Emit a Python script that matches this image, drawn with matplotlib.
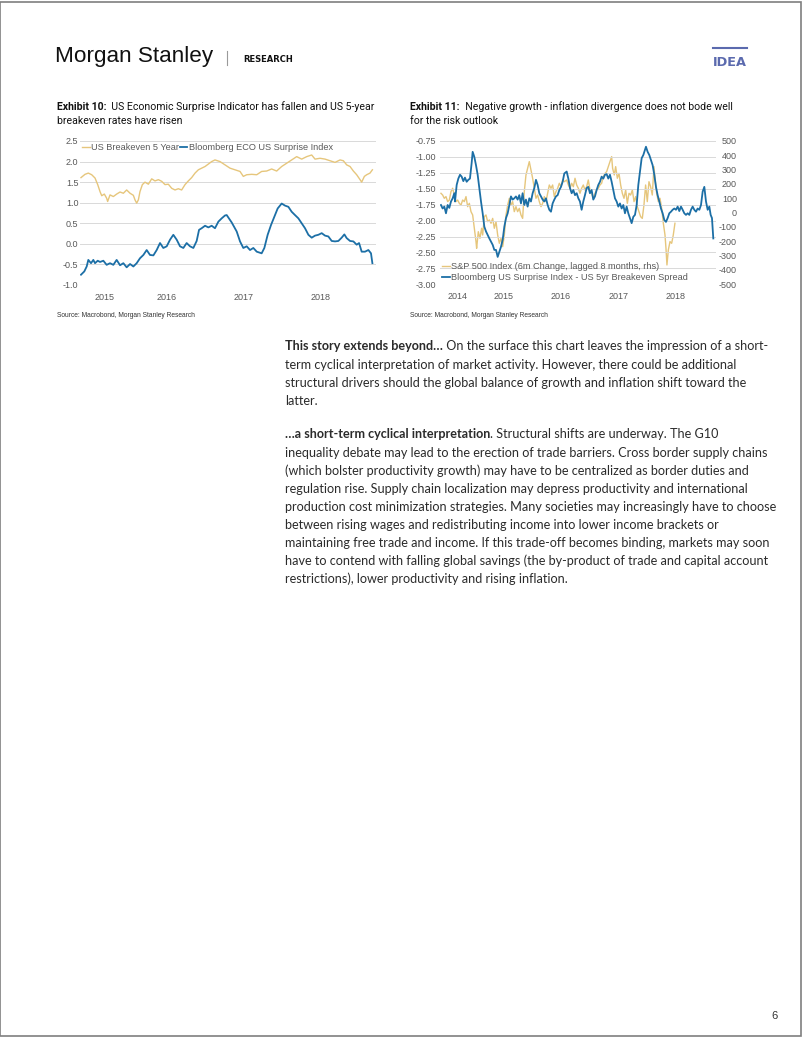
import matplotlib
matplotlib.use('Agg')
import matplotlib.pyplot as plt
import numpy as np
from matplotlib.ticker import FormatStrFormatter

plt.rcParams['font.family'] = ['Liberation Sans', 'DejaVu Sans']
plt.rcParams['axes.unicode_minus'] = False

W, H = 802, 1037
GOLD = '#E6C67C'
BLUE = '#1C6FA6'
GRID = '#D9D9D9'
TICK = '#595959'

# ---- Exhibit 10 data (decimal years) ----
be_t = [2015.383, 2015.435, 2015.478, 2015.522, 2015.565, 2015.600, 2015.630, 2015.652,
        2015.686, 2015.716, 2015.729, 2015.760, 2015.803, 2015.846, 2015.890, 2015.933,
        2015.976, 2016.020, 2016.063, 2016.084, 2016.106, 2016.128, 2016.149, 2016.180,
        2016.214, 2016.258, 2016.301, 2016.344, 2016.388, 2016.431, 2016.474, 2016.517,
        2016.561, 2016.604, 2016.647, 2016.690, 2016.734, 2016.777, 2016.820, 2016.864,
        2016.907, 2016.950, 2016.994, 2017.037, 2017.080, 2017.123, 2017.188, 2017.253,
        2017.318, 2017.383, 2017.448, 2017.491, 2017.535, 2017.600, 2017.665, 2017.729,
        2017.794, 2017.859, 2017.924, 2017.989, 2018.054, 2018.119, 2018.184, 2018.249,
        2018.314, 2018.379, 2018.422, 2018.487, 2018.552, 2018.617, 2018.682, 2018.747,
        2018.790, 2018.833, 2018.877, 2018.920, 2018.963, 2019.007, 2019.028, 2019.063,
        2019.093, 2019.136, 2019.167]
be_v = [1.61, 1.69, 1.72, 1.68, 1.60, 1.44, 1.27, 1.17,
        1.21, 1.11, 1.03, 1.19, 1.15, 1.21, 1.26, 1.23,
        1.31, 1.23, 1.18, 1.07, 0.99, 1.07, 1.27, 1.44,
        1.50, 1.45, 1.58, 1.53, 1.56, 1.52, 1.44, 1.45,
        1.35, 1.31, 1.34, 1.31, 1.44, 1.53, 1.61, 1.72,
        1.80, 1.84, 1.88, 1.94, 2.00, 2.04, 2.00, 1.92,
        1.84, 1.80, 1.76, 1.64, 1.68, 1.69, 1.68, 1.76,
        1.77, 1.82, 1.77, 1.88, 1.96, 2.04, 2.12, 2.06,
        2.12, 2.16, 2.06, 2.08, 2.06, 2.02, 1.98, 2.04,
        2.02, 1.92, 1.88, 1.77, 1.68, 1.56, 1.50, 1.64,
        1.68, 1.72, 1.80]

esi_t = [2015.383, 2015.426, 2015.457, 2015.478, 2015.513, 2015.543, 2015.565, 2015.600,
         2015.630, 2015.673, 2015.716, 2015.760, 2015.803, 2015.846, 2015.890, 2015.933,
         2015.976, 2016.020, 2016.063, 2016.106, 2016.149, 2016.193, 2016.236, 2016.279,
         2016.323, 2016.366, 2016.409, 2016.452, 2016.496, 2016.539, 2016.582, 2016.626,
         2016.669, 2016.712, 2016.755, 2016.799, 2016.842, 2016.885, 2016.916, 2016.950,
         2016.994, 2017.037, 2017.080, 2017.123, 2017.167, 2017.210, 2017.253, 2017.275,
         2017.340, 2017.405, 2017.448, 2017.491, 2017.535, 2017.578, 2017.621, 2017.665,
         2017.729, 2017.764, 2017.807, 2017.851, 2017.894, 2017.937, 2017.989, 2018.032,
         2018.076, 2018.119, 2018.162, 2018.206, 2018.249, 2018.292, 2018.336, 2018.379,
         2018.422, 2018.465, 2018.509, 2018.552, 2018.595, 2018.639, 2018.682, 2018.725,
         2018.768, 2018.803, 2018.833, 2018.877, 2018.920, 2018.963, 2018.994, 2019.028,
         2019.071, 2019.115, 2019.149, 2019.167]
esi_v = [-0.75, -0.67, -0.55, -0.39, -0.47, -0.39, -0.47, -0.41,
         -0.44, -0.41, -0.51, -0.47, -0.51, -0.39, -0.52, -0.47,
         -0.57, -0.49, -0.55, -0.47, -0.35, -0.27, -0.15, -0.27,
         -0.28, -0.15, 0.02, -0.10, -0.06, 0.10, 0.22, 0.10,
         -0.06, -0.10, 0.02, -0.06, -0.10, 0.07, 0.34, 0.38,
         0.44, 0.40, 0.44, 0.38, 0.54, 0.62, 0.69, 0.70,
         0.52, 0.30, 0.06, -0.10, -0.06, -0.15, -0.10, -0.19,
         -0.23, -0.10, 0.22, 0.46, 0.66, 0.86, 0.98, 0.93,
         0.90, 0.78, 0.70, 0.62, 0.50, 0.38, 0.22, 0.15,
         0.20, 0.22, 0.26, 0.20, 0.18, 0.07, 0.06, 0.07,
         0.15, 0.23, 0.14, 0.07, 0.06, -0.02, 0.02, -0.19,
         -0.19, -0.15, -0.23, -0.47]

# ---- Exhibit 11 data ----
spr_t = [2014.413, 2014.442, 2014.471, 2014.500, 2014.529, 2014.558, 2014.587, 2014.616,
         2014.645, 2014.657, 2014.686, 2014.715, 2014.744, 2014.773, 2014.802, 2014.830,
         2014.860, 2014.888, 2014.917, 2014.946, 2014.964, 2014.993, 2015.022, 2015.051,
         2015.080, 2015.109, 2015.138, 2015.167, 2015.196, 2015.225, 2015.254, 2015.283,
         2015.312, 2015.341, 2015.370, 2015.399, 2015.428, 2015.457, 2015.486, 2015.515,
         2015.544, 2015.573, 2015.602, 2015.630, 2015.659, 2015.688, 2015.717, 2015.746,
         2015.775, 2015.804, 2015.833, 2015.862, 2015.891, 2015.920, 2015.949, 2015.978,
         2016.007, 2016.036, 2016.065, 2016.094, 2016.123, 2016.152, 2016.181, 2016.210,
         2016.239, 2016.268, 2016.297, 2016.326, 2016.355, 2016.384, 2016.413, 2016.442,
         2016.471, 2016.500, 2016.529, 2016.558, 2016.599, 2016.628, 2016.657, 2016.686,
         2016.715, 2016.744, 2016.773, 2016.802, 2016.830, 2016.859, 2016.888, 2016.917,
         2016.946, 2016.975, 2017.004, 2017.033, 2017.062, 2017.091, 2017.120, 2017.149,
         2017.178, 2017.207, 2017.236, 2017.265, 2017.294, 2017.323, 2017.352, 2017.381,
         2017.410, 2017.439, 2017.468, 2017.497, 2017.526, 2017.555, 2017.584, 2017.613,
         2017.642, 2017.671, 2017.700, 2017.729, 2017.758, 2017.787, 2017.816, 2017.845,
         2017.874, 2017.903, 2017.932, 2017.961, 2017.978, 2018.007, 2018.036, 2018.065,
         2018.094, 2018.123, 2018.152, 2018.181, 2018.210, 2018.239, 2018.268, 2018.297,
         2018.326, 2018.355, 2018.384, 2018.413, 2018.442, 2018.471, 2018.500, 2018.529,
         2018.558, 2018.587, 2018.616, 2018.645, 2018.674, 2018.703, 2018.732, 2018.761,
         2018.790, 2018.819, 2018.848, 2018.877, 2018.906, 2018.935, 2018.964, 2018.993,
         2019.022, 2019.051, 2019.080, 2019.103, 2019.126, 2019.149]
spr_v = [-1.755, -1.81, -1.78, -1.885, -1.755, -1.80, -1.70, -1.65,
         -1.57, -1.70, -1.44, -1.34, -1.28, -1.31, -1.38, -1.325,
         -1.39, -1.36, -1.34, -1.10, -0.92, -1.00, -1.13, -1.28,
         -1.49, -1.70, -1.885, -2.095, -2.17, -2.225, -2.28, -2.33,
         -2.38, -2.46, -2.46, -2.57, -2.49, -2.41, -2.30, -2.095,
         -1.96, -1.885, -1.755, -1.62, -1.67, -1.65, -1.62, -1.67,
         -1.60, -1.73, -1.57, -1.755, -1.67, -1.78, -1.65, -1.70,
         -1.57, -1.49, -1.36, -1.44, -1.57, -1.62, -1.67, -1.70,
         -1.65, -1.755, -1.83, -1.86, -1.73, -1.67, -1.62, -1.60,
         -1.52, -1.47, -1.39, -1.26, -1.23, -1.34, -1.49, -1.57,
         -1.52, -1.60, -1.57, -1.65, -1.70, -1.83, -1.70, -1.60,
         -1.49, -1.47, -1.57, -1.52, -1.67, -1.62, -1.52, -1.44,
         -1.39, -1.31, -1.34, -1.28, -1.27, -1.34, -1.28, -1.39,
         -1.52, -1.65, -1.70, -1.78, -1.73, -1.81, -1.755, -1.885,
         -1.78, -1.885, -1.96, -2.04, -1.94, -1.91, -1.755, -1.44,
         -1.23, -1.02, -0.97, -0.89, -0.84, -0.92, -0.97, -1.05,
         -1.13, -1.28, -1.47, -1.60, -1.70, -1.81, -1.885, -1.99,
         -2.02, -1.96, -1.885, -1.86, -1.83, -1.81, -1.83, -1.78,
         -1.85, -1.78, -1.83, -1.885, -1.91, -1.885, -1.91, -1.83,
         -1.78, -1.83, -1.86, -1.81, -1.83, -1.755, -1.545, -1.47,
         -1.70, -1.83, -1.78, -1.91, -1.96, -2.28]

spx_t = [2014.413, 2014.442, 2014.471, 2014.500, 2014.529, 2014.558, 2014.587, 2014.616,
         2014.645, 2014.674, 2014.703, 2014.732, 2014.761, 2014.790, 2014.819, 2014.848,
         2014.877, 2014.906, 2014.935, 2014.964, 2014.993, 2015.022, 2015.033, 2015.062,
         2015.091, 2015.120, 2015.138, 2015.167, 2015.196, 2015.225, 2015.254, 2015.283,
         2015.312, 2015.341, 2015.370, 2015.399, 2015.428, 2015.457, 2015.486, 2015.515,
         2015.544, 2015.573, 2015.602, 2015.630, 2015.659, 2015.688, 2015.717, 2015.746,
         2015.775, 2015.804, 2015.833, 2015.862, 2015.891, 2015.920, 2015.949, 2015.978,
         2016.007, 2016.036, 2016.065, 2016.094, 2016.123, 2016.152, 2016.181, 2016.210,
         2016.239, 2016.268, 2016.297, 2016.326, 2016.355, 2016.384, 2016.413, 2016.442,
         2016.471, 2016.500, 2016.529, 2016.558, 2016.599, 2016.628, 2016.657, 2016.686,
         2016.715, 2016.744, 2016.773, 2016.802, 2016.830, 2016.859, 2016.888, 2016.917,
         2016.946, 2016.975, 2017.004, 2017.033, 2017.062, 2017.091, 2017.120, 2017.149,
         2017.178, 2017.207, 2017.236, 2017.265, 2017.294, 2017.323, 2017.352, 2017.381,
         2017.398, 2017.427, 2017.451, 2017.480, 2017.509, 2017.538, 2017.567, 2017.596,
         2017.625, 2017.654, 2017.683, 2017.712, 2017.741, 2017.770, 2017.799, 2017.827,
         2017.856, 2017.885, 2017.914, 2017.943, 2017.972, 2018.001, 2018.030, 2018.059,
         2018.088, 2018.117, 2018.135, 2018.164, 2018.193, 2018.222, 2018.251, 2018.280,
         2018.309, 2018.326, 2018.343, 2018.367, 2018.396, 2018.425, 2018.453, 2018.482]
spx_v = [135, 123, 100, 112, 77, 88, 147, 170,
         123, 77, 88, 65, 53, 88, 77, 112,
         42, 65, 7, -16, -109, -202, -249, -133,
         -179, -109, -156, -28, -16, -63, -51, -74,
         -40, -109, -63, -156, -214, -179, -237, -156,
         -16, 53, 100, 53, 77, 7, 42, 7,
         30, -16, -40, 147, 263, 309, 356, 298,
         240, 170, 100, 123, 77, 42, 65, 112,
         77, 135, 193, 170, 193, 112, 147, 170,
         205, 181, 228, 216, 228, 193, 170, 205,
         181, 240, 193, 170, 135, 170, 193, 158,
         181, 228, 158, 135, 100, 135, 158, 170,
         193, 205, 251, 274, 286, 321, 356, 391,
         309, 263, 321, 240, 274, 193, 135, 100,
         158, 65, 135, 123, 158, 77, 112, 42,
         7, -28, -40, 53, 193, 77, 216, 181,
         123, 321, 240, 135, 77, 100, 30, -74,
         -156, -249, -365, -260, -202, -214, -156, -74]

ex10_years = ['2015', '2016', '2017', '2018']
ex11_years = ['2014', '2015', '2016', '2017', '2018']


def px(x, y):
    return x / W, 1 - y / H


def box(l, t, r, b):
    return [l / W, 1 - b / H, (r - l) / W, (b - t) / H]


def clean(ax):
    for s in ax.spines.values():
        s.set_visible(False)
    ax.tick_params(length=0, labelsize=6.5, labelcolor=TICK)


def year_ticks(ax, years):
    lo, hi = ax.get_xlim()
    pos = []
    for y in years:
        a = max(int(y), lo)
        b = min(int(y) + 1, hi)
        pos.append((a + b) / 2)
    ax.set_xticks(pos)
    ax.set_xticklabels(years)


fig = plt.figure(figsize=(W / 100, H / 100), dpi=100)
fig.patch.set_facecolor('white')
renderer = fig.canvas.get_renderer()


def rich(x, y, parts, size, family, color='#222222'):
    # draw segments one after another on the same baseline
    for txt, weight in parts:
        t = fig.text(*px(x, y), txt, fontsize=size, fontweight=weight, family=family,
                     color=color, va='baseline', ha='left')
        x += t.get_window_extent(renderer).width


# page frame
fig.add_artist(plt.Rectangle((0.0005, 0.0005), 0.998, 0.998, transform=fig.transFigure,
                             fill=False, edgecolor='#7f7f7f', lw=1.2))

# header
fig.text(*px(55, 62), 'Morgan Stanley', fontsize=16.2, family='Liberation Sans',
         color='#111111', va='baseline')
fig.add_artist(plt.Line2D([227 / W, 227 / W], [1 - 51 / H, 1 - 65 / H], color='#9a9a9a', lw=0.8))
fig.text(*px(243, 62), 'RESEARCH', fontsize=6, fontweight='bold', family='DejaVu Sans',
         color='#111111', va='baseline')
fig.add_artist(plt.Line2D([713 / W, 747 / W], [1 - 48 / H, 1 - 48 / H], color='#5B6AAE', lw=1.5))
fig.text(*px(713, 66), 'IDEA', fontsize=9.3, fontweight='bold', family='DejaVu Sans',
         color='#5B6AAE', va='baseline')

# titles
rich(57, 109.5, [('Exhibit 10:', 'bold'), ('  US Economic Surprise Indicator has fallen and US 5-year', 'normal')],
     7.6, 'Roboto', '#111111')
rich(57, 124, [('breakeven rates have risen', 'normal')], 7.6, 'Roboto', '#111111')
rich(410, 109.5, [('Exhibit 11:', 'bold'), ('  Negative growth - inflation divergence does not bode well', 'normal')],
     7.6, 'Roboto', '#111111')
rich(410, 124, [('for the risk outlook', 'normal')], 7.6, 'Roboto', '#111111')

# ---- Exhibit 10 ----
ax1 = fig.add_axes(box(80, 141, 376, 285))
ax1.plot(be_t, be_v, color=GOLD, lw=1.0, label='US Breakeven 5 Year')
ax1.plot(esi_t, esi_v, color=BLUE, lw=1.3, label='Bloomberg ECO US Surprise Index')
ax1.set_xlim(2015.37, 2019.214)
ax1.set_ylim(-1, 2.5)
ax1.set_yticks(np.arange(-1, 2.51, 0.5))
ax1.yaxis.set_major_formatter(FormatStrFormatter('%.1f'))
ax1.grid(axis='y', color=GRID, lw=0.7)
ax1.set_axisbelow(True)
clean(ax1)
ax1.tick_params(axis='y', pad=1.2)
ax1.tick_params(axis='x', pad=5.5)
year_ticks(ax1, ex10_years)
ax1.legend(loc='upper left', bbox_to_anchor=(0.0, 1.0), ncol=2, frameon=False, fontsize=6.6,
           handlelength=0.8, handletextpad=0.15, columnspacing=0.1, borderaxespad=0,
           borderpad=0.25, labelcolor=TICK)

# ---- Exhibit 11 ----
axl = fig.add_axes(box(440, 141, 716, 284.3))
axr = axl.twinx()
l_spx, = axr.plot(spx_t, spx_v, color=GOLD, lw=1.0, label='S&P 500 Index (6m Change, lagged 8 months, rhs)')
l_spr, = axl.plot(spr_t, spr_v, color=BLUE, lw=1.3, label='Bloomberg US Surprise Index - US 5yr Breakeven Spread')
axl.set_zorder(axr.get_zorder() + 1)
axl.patch.set_visible(False)
axl.set_xlim(2014.396, 2019.196)
axl.set_ylim(-3, -0.75)
axl.set_yticks(np.arange(-3, -0.74, 0.25))
axl.yaxis.set_major_formatter(FormatStrFormatter('%.2f'))
axr.set_ylim(-500, 500)
axr.set_yticks(np.arange(-500, 501, 100))
axr.yaxis.set_major_formatter(FormatStrFormatter('%d'))
axl.grid(axis='y', color=GRID, lw=0.7)
clean(axl)
clean(axr)
axl.tick_params(axis='y', pad=2.9)
axl.tick_params(axis='x', pad=5.5)
axr.tick_params(axis='y', pad=15)
for lab in axr.get_yticklabels():
    lab.set_horizontalalignment('right')
year_ticks(axl, ex11_years)
axl.legend(handles=[l_spx, l_spr], loc='lower left', bbox_to_anchor=(0.0, 0.0), frameon=False,
           fontsize=6.6, handlelength=0.8, handletextpad=0.2, borderaxespad=0, borderpad=0.25,
           labelspacing=0.25, labelcolor=TICK)

# sources
fig.text(*px(57, 317), 'Source: Macrobond, Morgan Stanley Research', fontsize=4.8, color='#333333', va='baseline')
fig.text(*px(410, 317), 'Source: Macrobond, Morgan Stanley Research', fontsize=4.8, color='#333333', va='baseline')

# body text
body1 = [
    [('This story extends beyond\u2026', 'bold'), (' On the surface this chart leaves the impression of a short-', 'normal')],
    [('term cyclical interpretation of market activity. However, there could be additional', 'normal')],
    [('structural drivers should the global balance of growth and inflation shift toward the', 'normal')],
    [('latter.', 'normal')],
]
body2 = [
    [('\u2026a short-term cyclical interpretation', 'bold'), ('. Structural shifts are underway. The G10', 'normal')],
    [('inequality debate may lead to the erection of trade barriers. Cross border supply chains', 'normal')],
    [('(which bolster productivity growth) may have to be centralized as border duties and', 'normal')],
    [('regulation rise. Supply chain localization may depress productivity and international', 'normal')],
    [('production cost minimization strategies. Many societies may increasingly have to choose', 'normal')],
    [('between rising wages and redistributing income into lower income brackets or', 'normal')],
    [('maintaining free trade and income. If this trade-off becomes binding, markets may soon', 'normal')],
    [('have to contend with falling global savings (the by-product of trade and capital account', 'normal')],
    [('restrictions), lower productivity and rising inflation.', 'normal')],
]
for i, parts in enumerate(body1):
    rich(285, 350.5 + 18.1 * i, parts, 9.1, 'Lato', '#2b2b2b')
for i, parts in enumerate(body2):
    rich(285, 438.5 + 18.1 * i, parts, 9.1, 'Lato', '#2b2b2b')

fig.text(*px(771, 1019), '6', fontsize=8, color='#333333', va='baseline')

fig.savefig('out.png', dpi=100, facecolor='white')
